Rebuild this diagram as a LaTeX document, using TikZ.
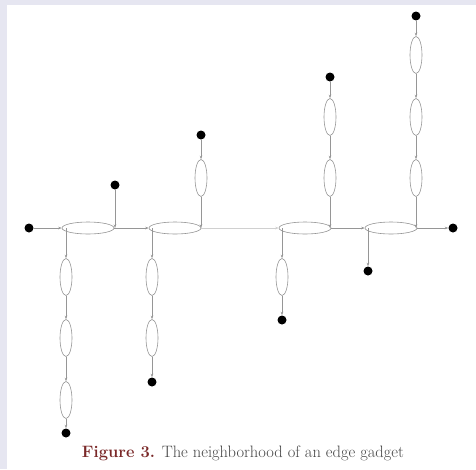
\documentclass[tikz,border=0pt]{standalone}
\usetikzlibrary{shapes.geometric,arrows.meta}
\definecolor{frame}{RGB}{230,230,241}
\definecolor{wire}{RGB}{150,150,150}
\definecolor{figred}{RGB}{122,40,40}
\begin{document}
\begin{tikzpicture}[x=1pt,y=-1pt,
  hgad/.style={ellipse,draw=wire,line width=0.6pt,minimum width=52pt,minimum height=12pt,inner sep=0pt},
  vgad/.style={ellipse,draw=wire,line width=0.6pt,minimum width=12pt,minimum height=37pt,inner sep=0pt},
  term/.style={circle,fill=black,minimum size=9pt,inner sep=0pt},
  wirearr/.style={draw=wire,line width=0.6pt,-{Stealth[length=3.5pt,width=2.5pt]}},
  faint/.style={draw=wire!45,line width=0.6pt,-{Stealth[length=3.5pt,width=2.5pt]}}]
% page frame
\fill[frame] (0,0) rectangle (476,469);
\fill[white] (7,5) rectangle (476,469);
\useasboundingbox (0,0) rectangle (476,469);

% horizontal gadgets on the main line
\node[hgad] (h1) at (88,228) {};
\node[hgad] (h2) at (175,228) {};
\node[hgad] (h3) at (305,228) {};
\node[hgad] (h4) at (391,228) {};

% end terminals of the main line
\node[term] (tl) at (29,228) {};
\node[term] (tr) at (453,228) {};

% chain below h1
\node[vgad] (a1) at (66,277) {};
\node[vgad] (a2) at (66,338) {};
\node[vgad] (a3) at (66,400) {};
\node[term] (ta) at (66,433) {};

% terminal above h1
\node[term] (tb) at (115,185) {};

% chain below h2
\node[vgad] (c1) at (152,277) {};
\node[vgad] (c2) at (152,338) {};
\node[term] (tc) at (152,382) {};

% chain above h2
\node[vgad] (d1) at (201,178) {};
\node[term] (td) at (201,135) {};

% chain below h3
\node[vgad] (e1) at (282,277) {};
\node[term] (te) at (282,320) {};

% chain above h3
\node[vgad] (f1) at (330,117) {};
\node[vgad] (f2) at (330,178) {};
\node[term] (tf) at (330,77) {};

% terminal below h4
\node[term] (tg) at (368,271) {};

% chain above h4
\node[vgad] (g1) at (416,55) {};
\node[vgad] (g2) at (416,117) {};
\node[vgad] (g3) at (416,178) {};
\node[term] (tgt) at (416,16) {};

% main line
\path[wirearr] (tl) -- (h1.west);
\path[wirearr] (h1.east) -- (h2.west);
\path[faint] (h2.east) -- (h3.west);
\path[wirearr] (h3.east) -- (h4.west);
\path[wirearr] (h4.east) -- (tr);

% branches hanging below the main line
\path[wirearr] (a1 |- h1.west) -- (a1.north);
\path[wirearr] (a1.south) -- (a2.north);
\path[wirearr] (a2.south) -- (a3.north);
\path[wirearr] (a3.south) -- (ta);

\path[wirearr] (c1 |- h2.west) -- (c1.north);
\path[wirearr] (c1.south) -- (c2.north);
\path[wirearr] (c2.south) -- (tc);

\path[wirearr] (e1 |- h3.west) -- (e1.north);
\path[wirearr] (e1.south) -- (te);

\path[wirearr] (tg |- h4.west) -- (tg);

% branches rising above the main line
\path[wirearr] (tb) -- (tb |- h1.east);

\path[wirearr] (td) -- (d1.north);
\path[wirearr] (d1.south) -- (d1 |- h2.east);

\path[wirearr] (tf) -- (f1.north);
\path[wirearr] (f1.south) -- (f2.north);
\path[wirearr] (f2.south) -- (f2 |- h3.east);

\path[wirearr] (tgt) -- (g1.north);
\path[wirearr] (g1.south) -- (g2.north);
\path[wirearr] (g2.south) -- (g3.north);
\path[wirearr] (g3.south) -- (g3 |- h4.east);

% caption
\node[anchor=base,font=\fontsize{16.5}{19}\selectfont,text=black!72] (cap) at (243,457)
  {\textcolor{figred}{\textbf{Figure 3.}} The neighborhood of an edge gadget};
\end{tikzpicture}
\end{document}
